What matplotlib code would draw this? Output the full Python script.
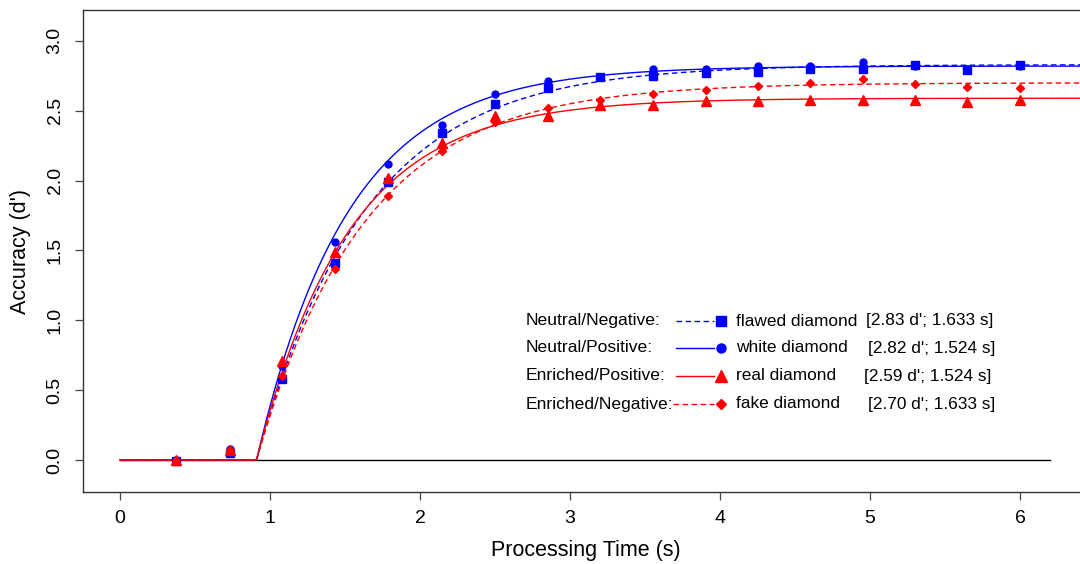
import numpy as np
import matplotlib
matplotlib.use("Agg")
import matplotlib.pyplot as plt
from matplotlib.lines import Line2D

plt.rcParams['font.family'] = ['Liberation Sans', 'DejaVu Sans']

# processing time of each lag (s)
times = [0.373, 0.733, 1.08, 1.433, 1.787, 2.147, 2.50, 2.853, 3.20, 3.553,
         3.907, 4.253, 4.60, 4.953, 5.30, 5.647, 6.00]

# observed accuracy (d') per condition
flawed = [-0.01, 0.05, 0.58, 1.41, 1.99, 2.34, 2.55, 2.66, 2.74, 2.75,
          2.77, 2.78, 2.80, 2.80, 2.83, 2.79, 2.83]
white = [0.00, 0.08, 0.67, 1.56, 2.12, 2.40, 2.62, 2.71, 2.74, 2.80,
         2.80, 2.82, 2.82, 2.85, 2.82, 2.80, 2.82]
real = [0.00, 0.07, 0.71, 1.49, 2.02, 2.27, 2.46, 2.46, 2.54, 2.54,
        2.57, 2.57, 2.58, 2.58, 2.58, 2.56, 2.58]
fake = [0.00, 0.07, 0.60, 1.37, 1.89, 2.21, 2.42, 2.52, 2.58, 2.62,
        2.65, 2.68, 2.70, 2.73, 2.69, 2.67, 2.66]

# fitted exponential approach to a limit: asymptote, time constant + intercept, intercept
asymptote = [2.83, 2.82, 2.59, 2.70]
rate_time = [1.633, 1.524, 1.524, 1.633]
intercept = 0.91

groups = ["Neutral/Negative:", "Neutral/Positive:", "Enriched/Positive:", "Enriched/Negative:"]
stimuli = ["flawed diamond", "white diamond", "real diamond", "fake diamond"]
params = ["[2.83 d'; 1.633 s]", "[2.82 d'; 1.524 s]", "[2.59 d'; 1.524 s]", "[2.70 d'; 1.633 s]"]

colors = ['#0000FF', '#0000FF', '#FF0000', '#FF0000']
styles = [(0, (4, 2.5)), '-', '-', (0, (4, 2.5))]
markers = ['s', 'o', '^', 'D']
msizes = [5.5, 5.0, 6.5, 4.0]
observed = [flawed, white, real, fake]

W, H = 1080, 564
fig = plt.figure(figsize=(W / 100, H / 100), dpi=100)
ax = fig.add_axes([83 / W, 1 - 492 / H, 1 - 83 / W, (492 - 10) / H])

ax.plot([0, 6.2], [0, 0], color='black', lw=1.0, zorder=1)

t_fit = np.linspace(0, 6.5, 600)
for i in range(4):
    beta = rate_time[i] - intercept
    y = np.where(t_fit > intercept,
                 asymptote[i] * (1 - np.exp(-(t_fit - intercept) / beta)), 0.0)
    ax.plot(t_fit, y, color=colors[i], ls=styles[i], lw=1.0, zorder=2)

# circles first so squares sit on top, as in the original
for i in [1, 0, 2, 3]:
    ax.plot(times, observed[i], ls='none', marker=markers[i], ms=msizes[i],
            color=colors[i], mec=colors[i], zorder=3)

ax.set_xlim((83 - 120) / 150, (W - 120) / 150)
ax.set_ylim((460 - 492) / 139.7, (460 - 10) / 139.7)
ax.set_xticks(range(7))
ax.set_yticks(np.arange(0, 3.01, 0.5))
ax.set_yticklabels([f"{v:.1f}" for v in np.arange(0, 3.01, 0.5)], rotation=90,
                   va='center')
ax.tick_params(direction='out', length=6, width=0.9, color='#444444',
               labelsize=14, pad=7)
ax.tick_params(axis='y', pad=8)
for s in ['left', 'bottom', 'top']:
    ax.spines[s].set_color('#333333')
    ax.spines[s].set_linewidth(1.0)
ax.spines['right'].set_visible(False)

ax.set_xlabel("Processing Time (s)", fontsize=15.5)
ax.xaxis.set_label_coords((586 - 83) / (W - 83), -(540 - 492) / (492 - 10))
ax.set_ylabel("Accuracy (d')", fontsize=15.5)
ax.yaxis.set_label_coords(-(83 - 31) / (W - 83), 0.5)


def fx(px):
    return px / W


def fy(py):
    return 1 - py / H


rows_y = [321, 348, 376, 404]
param_x = [866, 868, 864, 868]
line_x0 = [676, 676, 676, 673]
for i in range(4):
    yy = fy(rows_y[i])
    fig.text(fx(526), yy, groups[i], fontsize=12.6, va='center', ha='left')
    fig.add_artist(Line2D([fx(line_x0[i]), fx(714)], [yy, yy], color=colors[i],
                          ls=styles[i], lw=1.0, transform=fig.transFigure))
    fig.add_artist(Line2D([fx(721)], [yy], ls='none', marker=markers[i],
                          ms=msizes[i] + 1.5, color=colors[i],
                          transform=fig.transFigure))
    fig.text(fx(736), yy, stimuli[i], fontsize=12.4, va='center', ha='left')
    fig.text(fx(param_x[i]), yy, params[i], fontsize=12.4, va='center', ha='left')

fig.savefig("out.png", dpi=100)
